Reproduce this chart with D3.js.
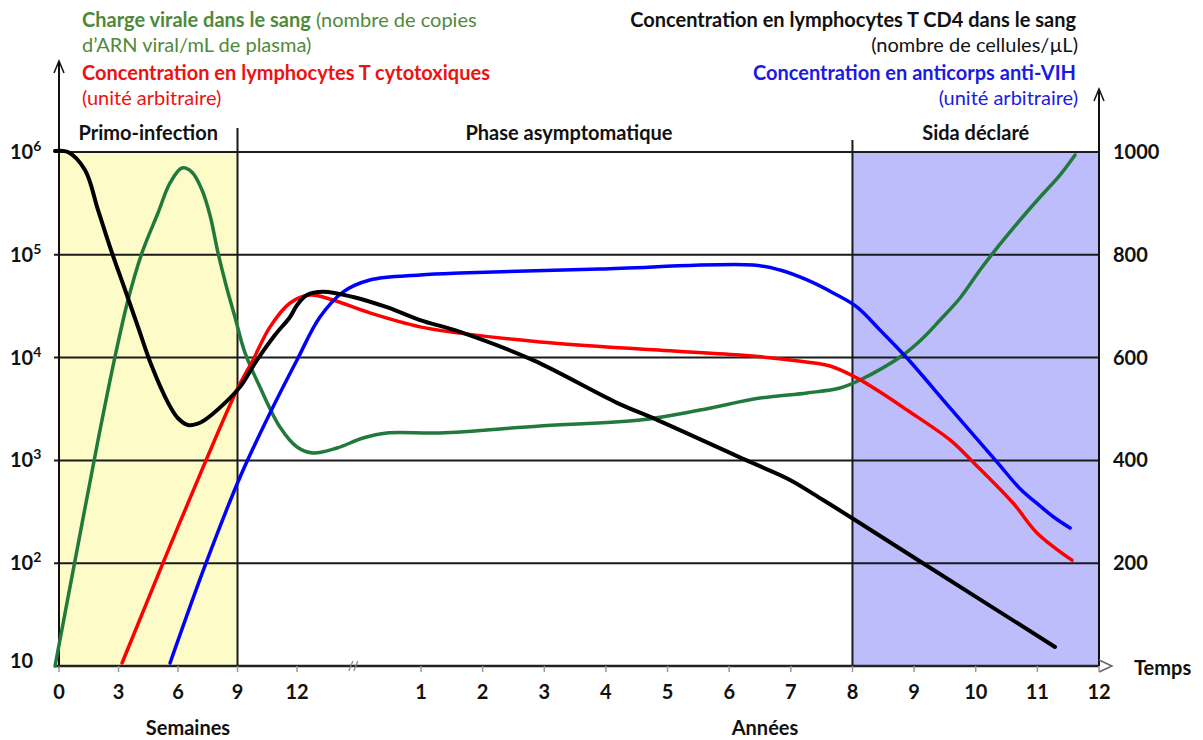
<!DOCTYPE html>
<html><head><meta charset="utf-8">
<script src="https://cdn.jsdelivr.net/npm/d3@7"></script>
<style>body{margin:0;background:#fff}svg{display:block;font-family:Lato,"Open Sans",sans-serif}</style>
</head><body>
<svg id="c" width="1203" height="740"></svg>
<script>
// ---- data (time in weeks; 1 year = 52 weeks) ----
const weekTicks = [0, 3, 6, 9, 12];
const yearTicks = [1, 2, 3, 4, 5, 6, 7, 8, 9, 10, 11, 12];
const leftTickExp = [1, 2, 3, 4, 5, 6];
const rightTicks = [200, 400, 600, 800, 1000];
const phaseNames = ["Primo-infection", "Phase asymptomatique", "Sida déclaré"];
const phaseBounds = [0, 9, 416, 624];

// viral load (copies/mL, left log axis)
const viralT = [-0.2, 0.86, 1.97, 2.82, 3.48, 4.18, 4.99, 5.6, 6.2, 6.7, 7.21, 7.61, 8.02, 8.42, 8.87, 9.38, 10.13, 11.14, 12, 17.2, 24.9, 33.3, 41, 68, 152.4, 236.8, 287.4, 338, 377.7, 405.5, 422.4, 458.7, 475.5, 489.9, 506.8, 523.6, 540.5, 557.4, 574.3, 591.1, 603.8];
const viralV = [10, 120, 1580, 10100, 36300, 104000, 255000, 500000, 698000, 638000, 427000, 244000, 104000, 50800, 24800, 11100, 5180, 2110, 1350, 1180, 1320, 1650, 1850, 1850, 2160, 2470, 3090, 4040, 4530, 5060, 6050, 10600, 15500, 23200, 38000, 71100, 127000, 218000, 365000, 597000, 935000];

// cytotoxic T lymphocytes (arbitrary unit, left axis)
const ctlT = [3.18, 5.24, 7.41, 8.97, 9.78, 10.64, 11.65, 16.2, 23.6, 35.5, 51.7, 84.9, 152.4, 236.8, 321.1, 363.3, 397.1, 419.9, 439.3, 462, 498.3, 517.7, 551.5, 571.7, 601.2];
const ctlV = [10.7, 100, 1000, 4840, 9480, 19900, 34000, 40600, 36300, 27200, 19900, 17300, 14200, 12100, 10600, 9480, 8280, 6310, 4620, 3090, 1580, 964, 385, 197, 107];

// anti-HIV antibodies (arbitrary unit, left axis)
const abT = [5.6, 7.41, 9.13, 10.64, 12, 19.4, 26.8, 35.5, 51.7, 84.9, 203, 332.1, 354.9, 377.7, 401.3, 419.9, 439.3, 462, 498.3, 538, 557.4, 574.3, 586.9, 599.6];
const abV = [10.7, 100, 690, 2890, 9480, 24800, 43400, 56900, 63600, 66500, 72800, 79500, 71100, 56900, 41600, 31000, 18500, 9900, 3240, 964, 530, 360, 275, 220];

// CD4 T lymphocytes (cells/µL, right axis)
const cd4T = [-0.2, 0.45, 1.31, 1.97, 2.67, 3.33, 3.98, 4.69, 5.5, 6.0, 6.5, 6.96, 7.36, 8.37, 9.13, 9.98, 10.89, 11.65, 12, 15.2, 20.4, 30.1, 41, 51.7, 84.9, 146.5, 217.4, 251.1, 329.6, 363.3, 391.2, 418.2, 475.5, 586.9];
const cd4V = [1002, 1000, 965, 887, 804, 732, 660, 582, 512, 482, 469, 471, 479, 512, 543, 595, 644, 679, 702, 722, 728, 718, 698, 673, 650, 595, 512, 479, 397, 362, 323, 284, 200, 37];

// ---- layout ----
const svg = d3.select("#c");
const x = d3.scaleLinear().domain([0, 12, 52, 624]).range([59, 297, 421, 1099]);
const yL = d3.scaleLog().domain([10, 1e6]).range([666, 152]);
const yR = d3.scaleLinear().domain([0, 1000]).range([666, 152]);
const X0 = x(0), X1 = x(624), YB = yL(10), YT = yL(1e6);
const FS = 20;

// phase backgrounds
const bgColors = ["#fdfcc9", "none", "#bdbdfb"];
phaseNames.forEach((n, i) => {
  if (bgColors[i] !== "none")
    svg.append("rect").attr("x", x(phaseBounds[i])).attr("y", YT)
      .attr("width", x(phaseBounds[i + 1]) - x(phaseBounds[i])).attr("height", YB - YT)
      .attr("fill", bgColors[i]);
});

// gridlines
leftTickExp.forEach(e => {
  svg.append("line").attr("x1", X0 - 5).attr("x2", X1).attr("y1", yL(Math.pow(10, e))).attr("y2", yL(Math.pow(10, e)))
    .attr("stroke", "#1a1a1a").attr("stroke-width", 2);
});

// phase separators
svg.append("line").attr("x1", x(9)).attr("x2", x(9)).attr("y1", 128).attr("y2", YB).attr("stroke", "#1a1a1a").attr("stroke-width", 2);
svg.append("line").attr("x1", x(416)).attr("x2", x(416)).attr("y1", 140).attr("y2", YB).attr("stroke", "#1a1a1a").attr("stroke-width", 2);

// phase labels
const phaseDx = [0, 24, 0];
phaseNames.forEach((n, i) => {
  svg.append("text").attr("x", (x(phaseBounds[i]) + x(phaseBounds[i + 1])) / 2 + phaseDx[i]).attr("y", 140)
    .attr("text-anchor", "middle").attr("font-weight", "bold").attr("font-size", FS).attr("fill", "#111").text(n);
});

// axes lines
svg.append("line").attr("x1", X0).attr("x2", X0).attr("y1", 61).attr("y2", YB + 2).attr("stroke", "#111").attr("stroke-width", 2);
svg.append("path").attr("d", `M${X0 - 5},73 L${X0},61 L${X0 + 5},73`).attr("fill", "none").attr("stroke", "#111").attr("stroke-width", 1.5);
svg.append("line").attr("x1", X1).attr("x2", X1).attr("y1", 89).attr("y2", YB).attr("stroke", "#111").attr("stroke-width", 2);
svg.append("path").attr("d", `M${X1 - 5},101 L${X1},89 L${X1 + 5},101`).attr("fill", "none").attr("stroke", "#111").attr("stroke-width", 1.5);
svg.append("line").attr("x1", X0 - 5).attr("x2", X1).attr("y1", YB).attr("y2", YB).attr("stroke", "#222").attr("stroke-width", 2.5);
svg.append("path").attr("d", `M${X1},${YB - 6} L${X1 + 13},${YB} L${X1},${YB + 6}`).attr("fill", "none").attr("stroke", "#666").attr("stroke-width", 1.5);

// x ticks
const xTickPos = weekTicks.map(w => ({ pos: w, label: String(w) }))
  .concat(yearTicks.map(a => ({ pos: a * 52, label: String(a) })));
xTickPos.forEach(d => {
  svg.append("line").attr("x1", x(d.pos)).attr("x2", x(d.pos)).attr("y1", YB).attr("y2", YB + 6).attr("stroke", "#999").attr("stroke-width", 1.5);
  svg.append("text").attr("x", x(d.pos)).attr("y", 699).attr("text-anchor", "middle")
    .attr("font-weight", "bold").attr("font-size", FS).attr("fill", "#111").text(d.label);
});
// axis break
svg.append("path").attr("d", `M${x(30) - 4},${YB + 5} L${x(30)},${YB - 5} M${x(30) + 1},${YB + 5} L${x(30) + 5},${YB - 5}`)
  .attr("stroke", "#888").attr("stroke-width", 1.2).attr("fill", "none");

svg.append("text").attr("x", 188).attr("y", 735).attr("text-anchor", "middle").attr("font-weight", "bold").attr("font-size", FS).attr("fill", "#111").text("Semaines");
svg.append("text").attr("x", 765).attr("y", 735).attr("text-anchor", "middle").attr("font-weight", "bold").attr("font-size", FS).attr("fill", "#111").text("Années");
svg.append("text").attr("x", 1134).attr("y", 675).attr("font-weight", "bold").attr("font-size", FS).attr("fill", "#111").text("Temps");

// left tick labels
leftTickExp.forEach(e => {
  const t = svg.append("text").attr("x", 10).attr("y", yL(Math.pow(10, e)) + (e === 1 ? 2 : 7))
    .attr("font-weight", "bold").attr("font-size", FS).attr("fill", "#111");
  t.append("tspan").text("10");
  if (e > 1) t.append("tspan").attr("dy", -8).attr("font-size", 14).text(String(e));
});
// right tick labels
rightTicks.forEach(v => {
  svg.append("text").attr("x", 1113).attr("y", yR(v) + 7).attr("font-weight", "bold").attr("font-size", FS).attr("fill", "#111").text(String(v));
});

// curves
const curve = d3.curveCatmullRom.alpha(0.5);
const lineL = (T, V) => d3.line().x((d, i) => x(T[i])).y((d, i) => yL(V[i])).curve(curve)(T);
const lineR = (T, V) => d3.line().x((d, i) => x(T[i])).y((d, i) => yR(V[i])).curve(curve)(T);
svg.append("path").attr("d", lineL(viralT, viralV)).attr("fill", "none").attr("stroke", "#217a3c").attr("stroke-width", 3.5).attr("stroke-linecap", "round");
svg.append("path").attr("d", lineL(ctlT, ctlV)).attr("fill", "none").attr("stroke", "#ff0000").attr("stroke-width", 3.5).attr("stroke-linecap", "round");
svg.append("path").attr("d", lineL(abT, abV)).attr("fill", "none").attr("stroke", "#0000ff").attr("stroke-width", 3.5).attr("stroke-linecap", "round");
svg.append("path").attr("d", lineR(cd4T, cd4V)).attr("fill", "none").attr("stroke", "#000").attr("stroke-width", 4).attr("stroke-linecap", "round");

// legends
const leg = (xx, yy, anchor, parts) => {
  const t = svg.append("text").attr("x", xx).attr("y", yy).attr("text-anchor", anchor).attr("font-size", FS);
  parts.forEach(p => t.append("tspan").attr("fill", p[2]).attr("font-weight", p[1] ? "bold" : "normal").text(p[0]));
};
leg(82, 27, "start", [["Charge virale dans le sang", true, "#4f8a3a"], [" (nombre de copies", false, "#4f8a3a"]]);
leg(82, 52, "start", [["d’ARN viral/mL de plasma)", false, "#4f8a3a"]]);
leg(82, 80, "start", [["Concentration en lymphocytes T cytotoxiques", true, "#ee1111"]]);
leg(82, 105, "start", [["(unité arbitraire)", false, "#ee1111"]]);
leg(1076, 27, "end", [["Concentration en lymphocytes T CD4 dans le sang", true, "#111"]]);
leg(1078, 52, "end", [["(nombre de cellules/µL)", false, "#111"]]);
leg(1076, 80, "end", [["Concentration en anticorps anti-VIH", true, "#1a1ae6"]]);
leg(1078, 105, "end", [["(unité arbitraire)", false, "#1a1ae6"]]);
</script>
</body></html>
